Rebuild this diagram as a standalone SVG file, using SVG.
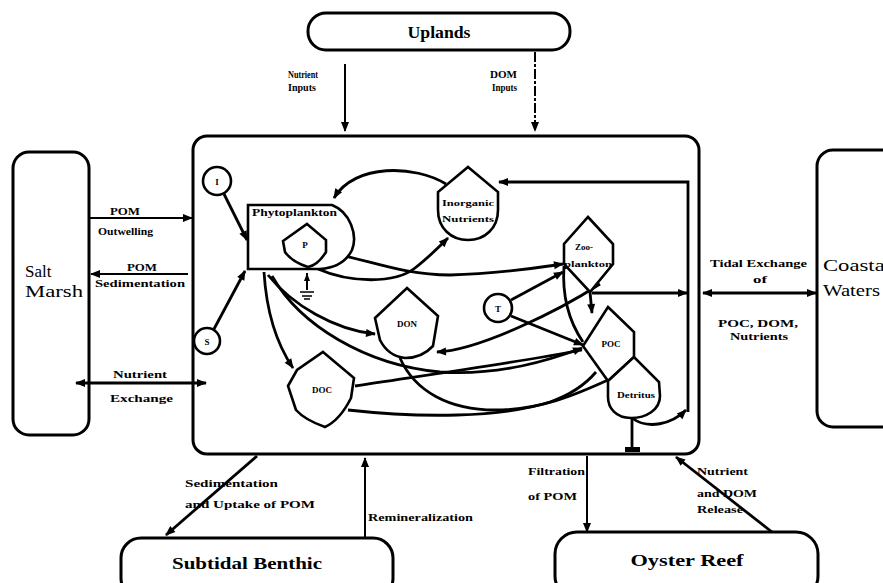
<svg xmlns="http://www.w3.org/2000/svg" width="883" height="583" viewBox="0 0 883 583">
<defs>
<marker id="ah" viewBox="0 0 10 10" refX="9" refY="5" markerWidth="11" markerHeight="10" markerUnits="userSpaceOnUse" orient="auto-start-reverse"><path d="M0,1 L10,5 L0,9 Z" fill="#000"/></marker>
<style>
.box{fill:#fff;stroke:#000;stroke-width:3}
.node{fill:#fff;stroke:#000;stroke-width:2.6}
.big{font-family:"Liberation Serif",serif;font-size:17px;fill:#000}
.lbl{font-family:"Liberation Serif",serif;font-size:10px;font-weight:bold;fill:#000}
.nl{font-family:"Liberation Serif",serif;font-size:9px;font-weight:bold;fill:#000;text-anchor:middle}
.c{fill:none;stroke:#000;stroke-width:2.8}
.e{fill:none;stroke:#000;stroke-width:2}
</style>
</defs>
<rect width="883" height="583" fill="#fff"/>

<g id="uplands"><rect class="box" x="308" y="13" width="262" height="37" rx="18"/><text class="big" x="439" y="38" text-anchor="middle" font-weight="bold" textLength="63" lengthAdjust="spacingAndGlyphs">Uplands</text></g>
<g id="salt-marsh"><rect class="box" x="13" y="152" width="76" height="283" rx="16"/><text class="big" x="25" y="277">Salt</text><text class="big" x="25" y="297" textLength="58" lengthAdjust="spacingAndGlyphs">Marsh</text></g>
<g id="coastal-waters"><rect class="box" x="817" y="150" width="90" height="277" rx="16"/><text class="big" x="823" y="271" font-size="19" textLength="68" lengthAdjust="spacingAndGlyphs">Coastal</text><text class="big" x="823" y="296" font-size="19" textLength="57" lengthAdjust="spacingAndGlyphs">Waters</text></g>
<g id="subtidal-benthic"><rect class="box" x="121" y="538" width="272" height="60" rx="20"/><text class="big" x="247" y="569" text-anchor="middle" font-weight="bold" textLength="150" lengthAdjust="spacingAndGlyphs">Subtidal Benthic</text></g>
<g id="oyster-reef"><rect class="box" x="555" y="532" width="263" height="66" rx="22"/><text class="big" x="687" y="566" text-anchor="middle" font-weight="bold" textLength="113" lengthAdjust="spacingAndGlyphs">Oyster Reef</text></g>
<g id="estuary"><rect class="box" x="193" y="136" width="506" height="318" rx="14"/></g>

<g id="connectors">
<path class="e" d="M345,64 L345,131" marker-end="url(#ah)"/>
<path class="e" d="M535,52 L535,131" stroke-dasharray="10,2,3,2" marker-end="url(#ah)"/>
<path class="e" d="M89,218 L192,218" marker-end="url(#ah)"/>
<path class="e" d="M188,274 L91,274" marker-end="url(#ah)"/>
<path class="c" d="M76,383 L206,383" marker-start="url(#ah)" marker-end="url(#ah)"/>
<path class="c" d="M703,293 L816,293" marker-start="url(#ah)" marker-end="url(#ah)"/>
<path class="c" d="M257,456 L166,535" marker-end="url(#ah)"/>
<path class="e" d="M365,538 L365,458" marker-end="url(#ah)"/>
<path class="e" d="M587,456 L587,532" marker-end="url(#ah)"/>
<path class="c" d="M772,532 L676,457" marker-end="url(#ah)"/>

<path class="c" d="M224,194 L247,240" marker-end="url(#ah)"/>
<path class="c" d="M214,329 L245,271" marker-end="url(#ah)"/>
<path class="c" d="M446,184 C415,165 355,163 334,198" marker-end="url(#ah)"/>
<path class="c" d="M318,269 C350,283 395,284 415,268 C428,258 438,248 448,238" marker-end="url(#ah)"/>
<path class="c" d="M324,252 C365,258 400,275 450,275 C500,274 535,268 563,264" marker-end="url(#ah)"/>
<path class="c" d="M264,272 C266,305 274,340 293,368" marker-end="url(#ah)"/>
<path class="c" d="M268,275 C292,305 335,330 375,334" marker-end="url(#ah)"/>
<path class="c" d="M272,276 C300,325 365,365 440,372 C500,376 550,360 582,348" marker-end="url(#ah)"/>
<path class="c" d="M511,300 L563,272" marker-end="url(#ah)"/>
<path class="c" d="M511,316 L583,345" marker-end="url(#ah)"/>
<path class="c" d="M600,284 C560,310 480,350 437,352" marker-end="url(#ah)"/>
<path class="c" d="M564,266 C562,295 568,320 583,342"/>
<path class="c" d="M590,292 L592,313" marker-end="url(#ah)"/>
<path class="c" d="M592,293 L687,293" marker-end="url(#ah)"/>
<path class="c" d="M632,418 C648,430 672,424 686,410" marker-end="url(#ah)"/>
<path class="c" d="M688,412 L688,182 L499,182" marker-end="url(#ah)"/>
<path class="c" d="M355,386 C420,376 520,362 582,350"/>
<path class="c" d="M348,410 C420,418 500,418 550,402 C570,395 585,385 596,372"/>
<path class="c" d="M400,358 C415,392 450,410 495,410 C540,410 575,395 608,380"/>
<path class="c" d="M632,418 L632,449"/>
<rect x="625" y="447" width="15" height="5" fill="#000"/>
<path class="e" d="M307,273 L307,290"/>
<path d="M307,273 L304,281 L310,281 Z" fill="#000"/>
<path d="M300,292 H314 M302,296 H312 M304,299 H310" stroke="#000" stroke-width="1.6"/>
</g>

<g id="label-text">
<text class="lbl" x="288" y="78" font-size="8" textLength="30" lengthAdjust="spacingAndGlyphs">Nutrient</text>
<text class="lbl" x="288" y="91" font-size="8" textLength="28" lengthAdjust="spacingAndGlyphs">Inputs</text>
<text class="lbl" x="490" y="78" font-size="8" textLength="27" lengthAdjust="spacingAndGlyphs">DOM</text>
<text class="lbl" x="492" y="91" font-size="8" textLength="25" lengthAdjust="spacingAndGlyphs">Inputs</text>
<text class="lbl" x="110" y="215" textLength="30" lengthAdjust="spacingAndGlyphs">POM</text>
<text class="lbl" x="98" y="235" textLength="55" lengthAdjust="spacingAndGlyphs">Outwelling</text>
<text class="lbl" x="127" y="271" textLength="30" lengthAdjust="spacingAndGlyphs">POM</text>
<text class="lbl" x="95" y="287" textLength="90" lengthAdjust="spacingAndGlyphs">Sedimentation</text>
<text class="lbl" x="113" y="378" textLength="54" lengthAdjust="spacingAndGlyphs">Nutrient</text>
<text class="lbl" x="110" y="402" textLength="63" lengthAdjust="spacingAndGlyphs">Exchange</text>
<text class="lbl" x="710" y="267" textLength="97" lengthAdjust="spacingAndGlyphs">Tidal Exchange</text>
<text class="lbl" x="753" y="283" textLength="14" lengthAdjust="spacingAndGlyphs">of</text>
<text class="lbl" x="718" y="327" textLength="80" lengthAdjust="spacingAndGlyphs">POC, DOM,</text>
<text class="lbl" x="730" y="340" textLength="58" lengthAdjust="spacingAndGlyphs">Nutrients</text>
<text class="lbl" x="185" y="487" textLength="93" lengthAdjust="spacingAndGlyphs">Sedimentation</text>
<text class="lbl" x="185" y="508" textLength="130" lengthAdjust="spacingAndGlyphs">and Uptake of POM</text>
<text class="lbl" x="368" y="521" textLength="105" lengthAdjust="spacingAndGlyphs">Remineralization</text>
<text class="lbl" x="528" y="475" textLength="57" lengthAdjust="spacingAndGlyphs">Filtration</text>
<text class="lbl" x="528" y="500" textLength="49" lengthAdjust="spacingAndGlyphs">of POM</text>
<text class="lbl" x="697" y="475" textLength="51" lengthAdjust="spacingAndGlyphs">Nutrient</text>
<text class="lbl" x="697" y="497" textLength="60" lengthAdjust="spacingAndGlyphs">and DOM</text>
<text class="lbl" x="697" y="513" textLength="46" lengthAdjust="spacingAndGlyphs">Release</text>
</g>

<g id="source-I"><circle class="node" cx="217" cy="181" r="14"/><text class="nl" x="217" y="185" font-size="11">I</text></g>
<g id="source-S"><circle class="node" cx="207" cy="341" r="13"/><text class="nl" x="207" y="345" font-size="11">S</text></g>
<g id="source-T"><circle class="node" cx="498" cy="308" r="14"/><text class="nl" x="498" y="312" font-size="11">T</text></g>
<g id="phytoplankton"><path class="node" d="M248,205 L332,205 C350,212 358,235 352,250 C346,262 335,268 320,269 L248,269 Z"/><text class="lbl" x="252" y="216" font-size="9" textLength="85" lengthAdjust="spacingAndGlyphs">Phytoplankton</text></g>
<g id="p"><path class="node" d="M307,224 L326,240 L326,252 Q318,265 308,267 Q292,262 285,252 L283,241 Z"/><text class="nl" x="305" y="248">P</text></g>
<g id="inorganic-nutrients"><path class="node" d="M468,167 L498,192 L498,210 C498,228 485,240 468,240 C451,240 438,228 438,210 L438,192 Z"/><text class="nl" x="468" y="206" textLength="52" lengthAdjust="spacingAndGlyphs">Inorganic</text><text class="nl" x="468" y="222" textLength="52" lengthAdjust="spacingAndGlyphs">Nutrients</text></g>
<g id="zooplankton"><path class="node" d="M588,217 L613,244 L613,264 L590,292 L564,264 L564,244 Z"/><text class="nl" x="584" y="250" font-size="8">Zoo-</text><text class="nl" x="588" y="267" textLength="48" lengthAdjust="spacingAndGlyphs">plankton</text></g>
<g id="don"><path class="node" d="M407,288 L438,316 L433,346 Q422,358 405,358 Q388,356 380,340 L375,318 Z"/><text class="nl" x="407" y="327" font-size="10">DON</text></g>
<g id="doc"><path class="node" d="M323,352 L354,378 L351,398 Q340,420 325,427 Q305,420 296,410 L288,386 L297,370 Z"/><text class="nl" x="322" y="393" font-size="10">DOC</text></g>
<g id="poc"><path class="node" d="M608,307 L634,332 L634,357 L608,381 L583,346 Z"/><text class="nl" x="611" y="347" font-size="10">POC</text></g>
<g id="detritus"><path class="node" d="M608,381 L634,357 L659,382 L660,396 C660,410 646,418 631,418 C616,418 608,408 608,397 Z"/><text class="nl" x="636" y="398" font-size="8" textLength="38" lengthAdjust="spacingAndGlyphs">Detritus</text></g>
</svg>
